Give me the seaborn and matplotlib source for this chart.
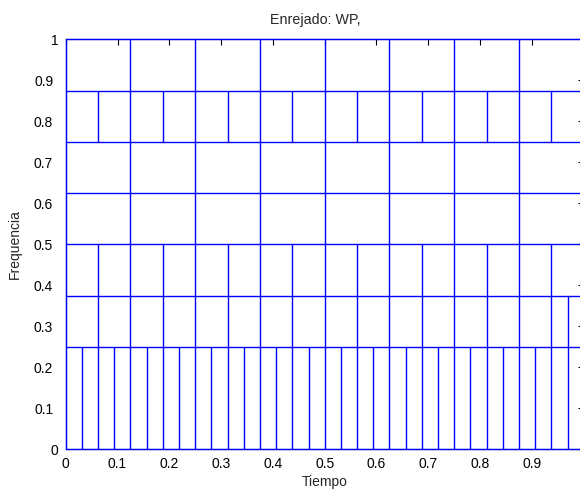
import numpy as np
import pandas as pd
import matplotlib
matplotlib.use("Agg")
import matplotlib.pyplot as plt
import matplotlib.transforms as mtransforms
import seaborn as sns

# Frequency band edges (rows of the tiling) and number of time cells in each band
band_edges = [0.0, 0.25, 0.375, 0.5, 0.625, 0.75, 0.875, 1.0]
band_cells = [32, 16, 16, 8, 8, 16, 8]
# extra vertical segment seen in the picture (time, freq from, freq to)
extra_t = [31 / 32]
extra_f0 = [0.25]
extra_f1 = [0.375]

x_ticks = [0, 0.1, 0.2, 0.3, 0.4, 0.5, 0.6, 0.7, 0.8, 0.9]
x_labels = ["0", "0.1", "0.2", "0.3", "0.4", "0.5", "0.6", "0.7", "0.8", "0.9"]
y_ticks = [0, 0.1, 0.2, 0.3, 0.4, 0.5, 0.6, 0.7, 0.8, 0.9, 1.0]
y_labels = ["0", "0.1", "0.2", "0.3", "0.4", "0.5", "0.6", "0.7", "0.8", "0.9", "1"]

# build segments
rows = []
seg = 0
for i, n in enumerate(band_cells):
    lo, hi = band_edges[i], band_edges[i + 1]
    for k in range(n + 1):
        t = k / n
        rows.append((seg, t, lo)); rows.append((seg, t, hi)); seg += 1
for f in band_edges:
    rows.append((seg, 0.0, f)); rows.append((seg, 1.0, f)); seg += 1
for t, a, b in zip(extra_t, extra_f0, extra_f1):
    rows.append((seg, t, a)); rows.append((seg, t, b)); seg += 1
df = pd.DataFrame(rows, columns=["seg", "t", "f"])

sns.set_style("white")
plt.rcParams["font.family"] = ["Liberation Sans", "DejaVu Sans"]

fig = plt.figure(figsize=(5.8, 4.91), dpi=100)
ax = fig.add_axes([65.7 / 580, 41.7 / 491, 518 / 580, 410 / 491])
sns.lineplot(data=df, x="t", y="f", units="seg", estimator=None, sort=False,
             color=(0, 0, 1), linewidth=1.0, ax=ax, zorder=3, legend=False)
for l in ax.lines:
    l.set_clip_on(False)

ax.set_xlim(0, 1)
ax.set_ylim(0, 1)
ax.set_xticks(x_ticks)
ax.set_xticklabels(x_labels)
ax.set_yticks(y_ticks)
ax.set_yticklabels(y_labels)
ax.tick_params(direction="in", top=True, right=True, length=4, width=0.8,
               colors="black", labelsize=10)
ax.tick_params(axis="x", pad=5.5)
ax.tick_params(axis="y", pad=9)
for s in ax.spines.values():
    s.set_color("black")
    s.set_linewidth(0.8)

# short labels sit closer to the axis in the reference
shift = mtransforms.ScaledTranslation(5 / 100, 0, fig.dpi_scale_trans)
for lab in ax.get_yticklabels():
    if lab.get_text() in ("0", "1"):
        lab.set_transform(lab.get_transform() + shift)

ax.set_title("Enrejado: WP,", fontsize=10.3, pad=11, x=0.481)
ax.set_xlabel("Tiempo", fontsize=10, labelpad=3)
ax.set_ylabel("Frequencia", fontsize=10, labelpad=8.5)

fig.savefig("out.png", dpi=100)
